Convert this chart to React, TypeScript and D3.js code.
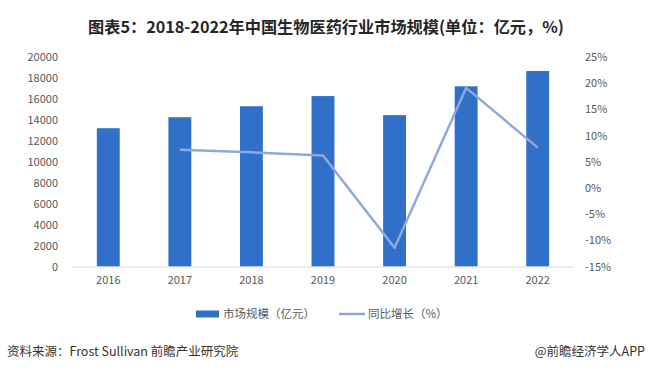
import * as d3 from 'd3';
import React, { useRef, useEffect } from 'react';

const years = ['2016', '2017', '2018', '2019', '2020', '2021', '2022'];
const marketSize = [13200, 14250, 15300, 16270, 14450, 17200, 18660];
const growthYears = ['2017', '2018', '2019', '2020', '2021', '2022'];
const growthRate = [7.3, 6.8, 6.2, -11.4, 19.1, 7.7];
const leftTicks = [0, 2000, 4000, 6000, 8000, 10000, 12000, 14000, 16000, 18000, 20000];
const rightTicks = [-15, -10, -5, 0, 5, 10, 15, 20, 25];

const FONT = '"Microsoft YaHei", "Noto Sans CJK SC", sans-serif';

const App = () => {
    const ref = useRef<SVGSVGElement>(null);

    useEffect(() => {
        const svg = d3.select(ref.current);
        svg.selectAll('*').remove();

        const plotTop = 57;
        const plotBottom = 266.5;

        const x = d3.scaleBand()
            .domain(years)
            .range([72.5, 573.5])
            .paddingInner(0.68)
            .paddingOuter(0.34);
        const yLeft = d3.scaleLinear().domain([0, 20000]).range([plotBottom, plotTop]);
        const yRight = d3.scaleLinear().domain([-15, 25]).range([plotBottom, plotTop]);

        svg.append('rect').attr('width', 649).attr('height', 370).attr('fill', '#fff');

        // title
        svg.append('text')
            .attr('x', 326)
            .attr('y', 33)
            .attr('text-anchor', 'middle')
            .attr('font-family', FONT)
            .attr('font-size', 16.2)
            .attr('font-weight', 'bold')
            .attr('fill', '#262626')
            .text('图表5：2018-2022年中国生物医药行业市场规模(单位：亿元，%)');

        // left axis labels
        const leftAxis = d3.axisLeft(yLeft).tickValues(leftTicks).tickSize(0).tickPadding(0)
            .tickFormat(d3.format('d'));
        const gl = svg.append('g').attr('transform', 'translate(58,0)').call(leftAxis);
        gl.select('.domain').remove();
        gl.selectAll('text')
            .attr('font-family', FONT)
            .attr('font-size', 11)
            .attr('fill', '#595959');

        // right axis labels
        const rightAxis = d3.axisRight(yRight).tickValues(rightTicks).tickSize(0).tickPadding(0)
            .tickFormat(d => `${d}%`);
        const gr = svg.append('g').attr('transform', 'translate(585,0)').call(rightAxis);
        gr.select('.domain').remove();
        gr.selectAll('text')
            .attr('font-family', FONT)
            .attr('font-size', 11)
            .attr('fill', '#595959');

        // bars
        svg.append('g').selectAll('rect')
            .data(marketSize)
            .enter().append('rect')
            .attr('x', (d, i) => x(years[i]) as number)
            .attr('width', x.bandwidth())
            .attr('y', d => yLeft(d))
            .attr('height', d => yLeft(0) - yLeft(d))
            .attr('fill', '#3070C8');

        // x axis
        const xAxis = d3.axisBottom(x).tickSize(0).tickPadding(10);
        const gx = svg.append('g').attr('transform', `translate(0,${plotBottom})`).call(xAxis);
        gx.select('.domain').attr('stroke', '#d9d9d9').attr('stroke-width', 1);
        gx.selectAll('text')
            .attr('font-family', FONT)
            .attr('font-size', 11)
            .attr('fill', '#595959');

        // growth line
        const line = d3.line<number>()
            .x((d, i) => (x(growthYears[i]) as number) + x.bandwidth() / 2)
            .y(d => yRight(d));
        svg.append('path')
            .datum(growthRate)
            .attr('d', line)
            .attr('fill', 'none')
            .attr('stroke', '#8EA9DB')
            .attr('stroke-width', 2.5)
            .attr('stroke-linejoin', 'round');

        // legend
        const lg = svg.append('g').attr('font-family', FONT).attr('font-size', 11.5).attr('fill', '#595959');
        lg.append('rect').attr('x', 196).attr('y', 310.5).attr('width', 23).attr('height', 7).attr('fill', '#3070C8');
        lg.append('text').attr('x', 223).attr('y', 318).text('市场规模（亿元）');
        lg.append('line').attr('x1', 339).attr('x2', 365).attr('y1', 314).attr('y2', 314)
            .attr('stroke', '#8EA9DB').attr('stroke-width', 2.5);
        lg.append('text').attr('x', 368).attr('y', 318).text('同比增长（%）');

        // footer
        svg.append('text')
            .attr('x', 7)
            .attr('y', 356)
            .attr('font-family', FONT)
            .attr('font-size', 12.5)
            .attr('fill', '#333')
            .text('资料来源：Frost Sullivan 前瞻产业研究院');
        svg.append('text')
            .attr('x', 645)
            .attr('y', 356)
            .attr('text-anchor', 'end')
            .attr('font-family', FONT)
            .attr('font-size', 12.5)
            .attr('fill', '#333')
            .text('@前瞻经济学人APP');
    }, []);

    return (
        <svg ref={ref} width={649} height={370}
            style={{ position: 'absolute', left: 0, top: 0, display: 'block' }} />
    );
};

export default App;
